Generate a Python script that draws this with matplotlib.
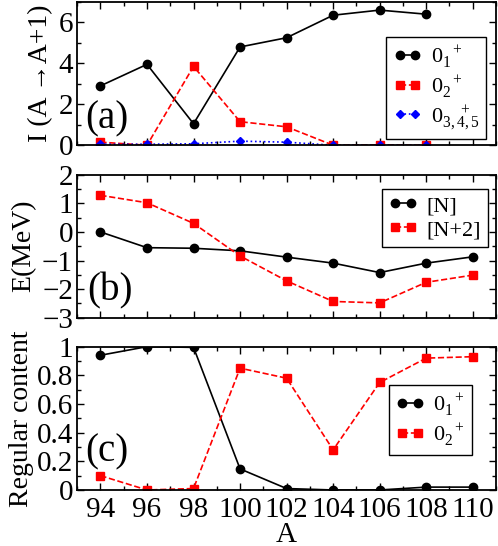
import matplotlib
matplotlib.use("Agg")
import matplotlib.pyplot as plt
from matplotlib.ticker import MultipleLocator

plt.rcParams['font.family'] = ['Liberation Serif', 'DejaVu Serif']
plt.rcParams['mathtext.fontset'] = 'custom'
plt.rcParams['mathtext.rm'] = 'Liberation Serif'
plt.rcParams['mathtext.it'] = 'Liberation Serif'

A = [94, 96, 98, 100, 102, 104, 106, 108, 110]

# panel (a)
A_a = [94, 96, 98, 100, 102, 104, 106, 108]
I_01 = [2.9, 3.95, 1.05, 4.8, 5.25, 6.35, 6.6, 6.4]
I_02 = [0.15, 0.0, 3.85, 1.15, 0.9, 0.0, 0.02, 0.0]
I_0345 = [0.05, 0.05, 0.07, 0.2, 0.15, 0.0, 0.0, 0.0]

# panel (b)
E_N = [0.0, -0.55, -0.57, -0.66, -0.88, -1.09, -1.42, -1.09, -0.87]
E_N2 = [1.28, 1.02, 0.30, -0.84, -1.71, -2.43, -2.48, -1.76, -1.51]

# panel (c)
R_01 = [0.94, 1.0, 0.995, 0.147, 0.01, 0.0, 0.0, 0.02, 0.02]
R_02 = [0.10, 0.0, 0.01, 0.85, 0.78, 0.28, 0.75, 0.92, 0.93]

xticks = [94, 96, 98, 100, 102, 104, 106, 108, 110]

fig = plt.figure(figsize=(4.98, 5.46), dpi=100)
axa = fig.add_axes([0.155, 0.734, 0.841, 0.2625])
axb = fig.add_axes([0.155, 0.418, 0.841, 0.262])
axc = fig.add_axes([0.155, 0.1026, 0.841, 0.2625])

FS = 21
LFS = 20
lw = 1.2

def style(ax, ymaj, ymin):
    ax.set_xlim(93, 111)
    ax.set_xticks(xticks)
    ax.xaxis.set_minor_locator(MultipleLocator(1))
    ax.yaxis.set_major_locator(MultipleLocator(ymaj))
    ax.yaxis.set_minor_locator(MultipleLocator(ymin))
    ax.tick_params(which='both', direction='in', top=True, right=True,
                   labelsize=FS, width=1.0)
    ax.tick_params(axis='y', pad=3)
    ax.tick_params(axis='x', pad=5)
    ax.tick_params(which='major', length=5)
    ax.tick_params(which='minor', length=3)
    for s in ax.spines.values():
        s.set_linewidth(1.3)

leg_kw = dict(frameon=True, fancybox=False, edgecolor='black', framealpha=1,
              fontsize=16, handlelength=1.3, numpoints=2, borderpad=0.3,
              labelspacing=0.15, handletextpad=0.4, borderaxespad=0)

# (a)
axa.plot(A_a, I_01, '-o', color='black', lw=lw, ms=6, label=r'$\mathregular{0_1^{\ \ +}}$')
axa.plot(A_a, I_02, '--s', color='red', lw=lw, ms=5.5, label=r'$\mathregular{0_2^{\ \ +}}$')
axa.plot(A_a, I_0345, ':D', color='blue', lw=lw, ms=4, label=r'$\mathregular{0_{3,4,5}^{\ \ \ \ +}}$')
style(axa, 2, 1)
axa.set_ylim(0, 7)
axa.tick_params(labelbottom=False)
axa.set_ylabel('I (A →A+1)', fontsize=LFS, labelpad=4)
axa.text(0.02, 0.12, '(a)', transform=axa.transAxes, fontsize=28, va='baseline')
axa.legend(loc='upper right', bbox_to_anchor=(0.976, 0.758), **leg_kw)

# (b)
axb.plot(A, E_N, '-o', color='black', lw=lw, ms=6, label='[N]')
axb.plot(A, E_N2, '--s', color='red', lw=lw, ms=5.5, label='[N+2]')
style(axb, 1, 0.5)
axb.set_ylim(-3, 2)
axb.tick_params(labelbottom=False)
axb.set_ylabel('E(MeV)', fontsize=LFS, labelpad=4)
axb.text(0.025, 0.124, '(b)', transform=axb.transAxes, fontsize=28, va='baseline')
axb.legend(loc='upper right', bbox_to_anchor=(0.980, 0.90), **leg_kw)

# (c)
axc.plot(A, R_01, '-o', color='black', lw=lw, ms=6, label=r'$\mathregular{0_1^{\ \ +}}$')
axc.plot(A, R_02, '--s', color='red', lw=lw, ms=5.5, label=r'$\mathregular{0_2^{\ \ +}}$')
style(axc, 0.2, 0.1)
axc.set_ylim(0, 1)
axc.set_yticks([0, 0.2, 0.4, 0.6, 0.8, 1.0])
axc.set_yticklabels(['0', '0.2', '0.4', '0.6', '0.8', '1'])
axc.set_ylabel('Regular content', fontsize=LFS, labelpad=2)
axc.set_xlabel('A', fontsize=FS, labelpad=-1)
axc.text(0.02, 0.2, '(c)', transform=axc.transAxes, fontsize=28, va='baseline')
axc.legend(loc='upper right', bbox_to_anchor=(0.942, 0.733), **leg_kw)

fig.savefig('out.png', dpi=100)
